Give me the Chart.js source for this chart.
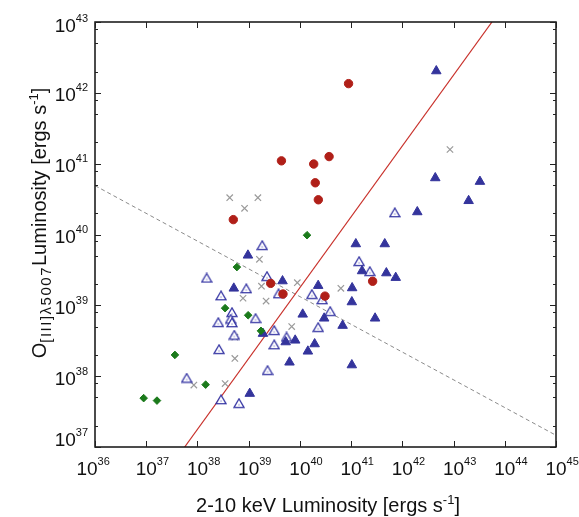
<!DOCTYPE html>
<html><head><meta charset="utf-8">
<script src="https://cdn.jsdelivr.net/npm/chart.js@4/dist/chart.umd.min.js"></script>
<style>html,body{margin:0;padding:0;background:#fff}canvas{display:block}</style>
</head><body>
<canvas id="c" width="579" height="517"></canvas>
<script>
// ---- data (log10 of luminosity) ----
const xDecades = [36,37,38,39,40,41,42,43,44,45];
const yDecades = [37,38,39,40,41,42,43];
const yMinorFactors = [2,5,8];

const redX = [40.95, 39.64, 40.27, 40.57, 40.30, 40.36, 38.70, 39.43, 39.67, 40.49, 41.42];
const redY = [42.13, 41.04, 40.995, 41.10, 40.73, 40.49, 40.21, 39.31, 39.16, 39.13, 39.34];

const greyX = [38.63, 38.92, 39.18, 42.93, 39.21, 39.25, 38.89, 39.34, 39.95, 40.80, 39.84, 38.73, 38.73, 38.54, 37.93];
const greyY = [40.52, 40.37, 40.52, 41.20, 39.65, 39.27, 39.10, 39.06, 39.32, 39.24, 38.70, 38.55, 38.25, 37.895, 37.875];

const greenX = [40.14, 38.77, 38.54, 38.99, 39.24, 37.56, 38.16, 36.95, 37.21];
const greenY = [39.99, 39.54, 38.96, 38.86, 38.64, 38.30, 37.88, 37.69, 37.655];

const openTriX = [39.265, 38.18, 39.357, 38.46, 38.953, 39.583, 40.234, 40.435, 40.591, 38.674, 38.647, 38.407, 38.674, 39.134, 38.719, 39.499, 39.739, 40.357, 39.499, 38.421, 39.368, 37.789, 38.46, 38.811, 41.156, 41.365, 41.852];
const openTriY = [39.847, 39.386, 39.41, 39.137, 39.236, 39.165, 39.156, 39.081, 38.916, 38.901, 38.807, 38.76, 38.756, 38.817, 38.581, 38.647, 38.553, 38.69, 38.445, 38.379, 38.083, 37.974, 37.669, 37.617, 39.621, 39.48, 40.309];

const fillTriX = [42.663, 42.643, 43.515, 43.294, 42.292, 41.092, 41.657, 41.214, 41.688, 41.871, 41.02, 41.014, 41.468, 40.834, 41.014, 40.357, 40.055, 40.474, 39.908, 38.986, 39.661, 38.71, 39.279, 39.723, 40.288, 40.156, 39.797, 39.021];
const fillTriY = [42.308, 40.798, 40.747, 40.476, 40.318, 39.866, 39.866, 39.485, 39.456, 39.391, 39.245, 39.047, 38.817, 38.714, 38.157, 39.278, 38.873, 38.817, 38.506, 39.706, 39.343, 39.24, 38.601, 38.482, 38.454, 38.351, 38.196, 37.754];

const solidLineX = [37.75, 43.75];
const solidLineY = [37, 43];
const dashLineX = [36, 45];
const dashLineY = [40.69, 37.165];

// ---- build ----
const pts = (xs, ys) => xs.map((v, i) => ({x: Math.pow(10, v), y: Math.pow(10, ys[i])}));
const FONT = '"Liberation Sans", Arial, Helvetica, sans-serif';

// open-triangle marker image (outline with small inner mark)
const openTri = document.createElement('canvas');
openTri.width = 12; openTri.height = 11;
(function () {
  const g = openTri.getContext('2d');
  g.strokeStyle = '#3636a4'; g.lineWidth = 1.3; g.fillStyle = '#fff';
  g.beginPath(); g.moveTo(6, 1); g.lineTo(1, 9.6); g.lineTo(11, 9.6); g.closePath(); g.fill(); g.stroke();
  g.fillStyle = '#a0a0d8';
  g.fillRect(5.3, 6.3, 1.4, 1.4);
})();

function richWidth(ctx, pieces) {
  let w = 0;
  for (const p of pieces) {
    ctx.font = p.size + 'px ' + FONT; ctx.letterSpacing = (p.ls || 0) + 'px';
    w += ctx.measureText(p.t).width;
  }
  ctx.letterSpacing = '0px';
  return w;
}
function drawRich(ctx, pieces, x, y) {
  let cx = x;
  for (const p of pieces) {
    ctx.font = p.size + 'px ' + FONT; ctx.letterSpacing = (p.ls || 0) + 'px';
    ctx.fillText(p.t, cx, y + (p.dy || 0));
    cx += ctx.measureText(p.t).width;
  }
  ctx.letterSpacing = '0px';
}

const axesPlugin = {
  id: 'axesPlugin',
  afterDatasetsDraw(chart) {
    const ctx = chart.ctx, a = chart.chartArea;
    const xs = chart.scales.x, ys = chart.scales.y;
    ctx.save();
    ctx.strokeStyle = '#111';
    ctx.lineWidth = 1.5;
    ctx.strokeRect(a.left, a.top, a.right - a.left, a.bottom - a.top);
    ctx.lineWidth = 1;
    ctx.strokeStyle = '#222';
    ctx.beginPath();
    for (const d of xDecades) {
      const px = Math.round(xs.getPixelForValue(Math.pow(10, d))) + 0.5;
      ctx.moveTo(px, a.bottom); ctx.lineTo(px, a.bottom - 6);
      ctx.moveTo(px, a.top); ctx.lineTo(px, a.top + 6);
    }
    for (const d of yDecades) {
      const py = Math.round(ys.getPixelForValue(Math.pow(10, d))) + 0.5;
      ctx.moveTo(a.left, py); ctx.lineTo(a.left + 6, py);
      ctx.moveTo(a.right, py); ctx.lineTo(a.right - 6, py);
      if (d < yDecades[yDecades.length - 1]) {
        for (const f of yMinorFactors) {
          const pm = Math.round(ys.getPixelForValue(f * Math.pow(10, d))) + 0.5;
          ctx.moveTo(a.left, pm); ctx.lineTo(a.left + 3, pm);
          ctx.moveTo(a.right, pm); ctx.lineTo(a.right - 3, pm);
        }
      }
    }
    ctx.stroke();
    ctx.restore();
  },
  afterDraw(chart) {
    const ctx = chart.ctx;
    const xs = chart.scales.x, ys = chart.scales.y;
    ctx.save();
    ctx.fillStyle = '#111';
    ctx.textBaseline = 'alphabetic';
    ctx.textAlign = 'left';
    // x tick labels
    for (const d of xDecades) {
      const px = xs.getPixelForValue(Math.pow(10, d)) + (d === 36 ? -8 : 0);
      ctx.font = '19px ' + FONT;
      const w10 = ctx.measureText('10').width;
      ctx.fillText('10', px - w10 / 2, 475);
      ctx.font = '11px ' + FONT;
      ctx.fillText(String(d), px + w10 / 2, 465);
    }
    // y tick labels (right aligned at x=88)
    for (const d of yDecades) {
      const py = ys.getPixelForValue(Math.pow(10, d));
      let base = py + 8.5;
      if (d === 43) base = py + 10;
      if (d === 37) base = py - 1.5;
      ctx.font = '11px ' + FONT;
      const ws = ctx.measureText(String(d)).width;
      ctx.fillText(String(d), 88 - ws, base - 10);
      ctx.font = '19px ' + FONT;
      const w10 = ctx.measureText('10').width;
      ctx.fillText('10', 88 - ws - w10, base);
    }
    // x title
    const xt = [{t: '2-10 keV Luminosity [ergs s', size: 20}, {t: '-1', size: 13, dy: -8}, {t: ']', size: 20}];
    const xw = richWidth(ctx, xt);
    drawRich(ctx, xt, 328 - xw / 2, 512);
    // y title
    const yt = [{t: 'O', size: 20}, {t: '[III]', size: 15, dy: 5, ls: 1.5}, {t: '\u03bb5007', size: 15, dy: 5, ls: 1.5},
                {t: 'Luminosity [ergs s', size: 20}, {t: '-1', size: 13, dy: -8}, {t: ']', size: 20}];
    const yw = richWidth(ctx, yt);
    ctx.translate(46, 223);
    ctx.rotate(-Math.PI / 2);
    drawRich(ctx, yt, -yw / 2, 0);
    ctx.restore();
  }
};

new Chart(document.getElementById('c'), {
  type: 'scatter',
  data: {
    datasets: [
      {label: 'fit', type: 'line', data: pts(solidLineX, solidLineY), borderColor: '#c8302a', borderWidth: 1.2,
       pointRadius: 0, fill: false, tension: 0, order: 10},
      {label: 'dash', type: 'line', data: pts(dashLineX, dashLineY), borderColor: '#8a8a8a', borderWidth: 1,
       borderDash: [4, 3], pointRadius: 0, fill: false, tension: 0, order: 11},
      {label: 'grey', data: pts(greyX, greyY), pointStyle: 'crossRot', pointRadius: 4.5,
       borderColor: '#9a9a9a', borderWidth: 1.2, backgroundColor: '#9a9a9a', order: 5},
      {label: 'open', data: pts(openTriX, openTriY), pointStyle: openTri, pointRadius: 6, order: 4},
      {label: 'filled', data: pts(fillTriX, fillTriY), pointStyle: 'triangle', pointRadius: 5.5,
       borderColor: '#34349c', borderWidth: 1, backgroundColor: '#34349c', order: 3},
      {label: 'green', data: pts(greenX, greenY), pointStyle: 'rectRot', pointRadius: 3.8,
       borderColor: '#1b7a1b', borderWidth: 1, backgroundColor: '#1b7a1b', order: 2},
      {label: 'red', data: pts(redX, redY), pointStyle: 'circle', pointRadius: 4.2,
       borderColor: '#b01f18', borderWidth: 1, backgroundColor: '#b01f18', order: 1}
    ]
  },
  options: {
    responsive: false,
    animation: false,
    devicePixelRatio: 1,
    layout: {padding: {left: 95, top: 22, right: 23, bottom: 70}},
    plugins: {legend: {display: false}, tooltip: {enabled: false}},
    elements: {point: {hoverRadius: 0}},
    scales: {
      x: {type: 'logarithmic', min: 1e36, max: 1e45, display: false},
      y: {type: 'logarithmic', min: 1e37, max: 1e43, display: false}
    }
  },
  plugins: [axesPlugin]
});
</script>
</body></html>
